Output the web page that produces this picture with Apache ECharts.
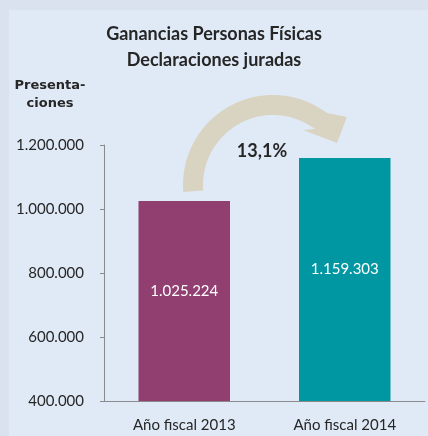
<!DOCTYPE html>
<html>
<head>
<meta charset="utf-8">
<script src="https://cdn.jsdelivr.net/npm/echarts@6/dist/echarts.min.js"></script>
<style>
  html, body { margin: 0; padding: 0; background: #dae2f0; }
  #chart { width: 428px; height: 436px; }
</style>
</head>
<body>
<div id="chart"></div>
<script>
// Ganancias Personas Físicas — bar chart, two fiscal years
const categories = ['Año fiscal 2013', 'Año fiscal 2014'];
const values = [1025224, 1159303];
const barColors = ['#913f71', '#0096a2'];
const yTicks = [400000, 600000, 800000, 1000000, 1200000];

const FONT = 'Lato, "Open Sans", sans-serif';

function fmtThousands(v) {
  return String(v).replace(/\B(?=(\d{3})+(?!\d))/g, '.');
}

const growth = ((values[1] / values[0] - 1) * 100).toFixed(1).replace('.', ',') + '%';

// decorative curved arrow: ring band from left to upper right + head
function arrowPoints() {
  const cx = 273, cy = 185, r = 90, r0 = 70;
  const a0 = 175.5 * Math.PI / 180;
  const a1 = 307 * Math.PI / 180;
  const pts = [];
  const n = 40;
  for (let i = 0; i <= n; i++) {
    const a = a0 + (a1 - a0) * i / n;
    pts.push([cx + r * Math.cos(a), cy + r * Math.sin(a)]);
  }
  pts.push([347, 117], [337, 143], [303, 130]);
  for (let i = n; i >= 0; i--) {
    const a = a0 + (a1 - a0) * i / n;
    pts.push([cx + r0 * Math.cos(a), cy + r0 * Math.sin(a)]);
  }
  return pts;
}

const chart = echarts.init(document.getElementById('chart'));

chart.setOption({
  backgroundColor: '#dae2f0',
  animation: false,
  title: {
    text: 'Ganancias Personas Físicas\nDeclaraciones juradas',
    left: 'center',
    top: 16,
    textStyle: {
      fontFamily: FONT,
      fontSize: 18,
      fontWeight: 'bold',
      color: '#262626',
      lineHeight: 26,
    },
  },
  grid: { left: 104, right: 3, top: 145, bottom: 35 },
  xAxis: {
    type: 'category',
    data: categories,
    axisLine: { lineStyle: { color: '#8a8a8a' } },
    axisTick: { length: 4, lineStyle: { color: '#8a8a8a' } },
    axisLabel: {
      fontFamily: FONT,
      fontSize: 15,
      color: '#262626',
      margin: 17,
    },
  },
  yAxis: {
    type: 'value',
    min: yTicks[0],
    max: yTicks[yTicks.length - 1],
    interval: 200000,
    splitLine: { show: false },
    axisLine: { show: true, lineStyle: { color: '#8a8a8a' } },
    axisTick: { show: true, length: 4, lineStyle: { color: '#8a8a8a' } },
    axisLabel: {
      fontFamily: FONT,
      fontSize: 15,
      color: '#262626',
      margin: 20,
      formatter: fmtThousands,
    },
  },
  graphic: [
    {
      type: 'rect',
      z: -10,
      shape: { x: 9, y: 10, width: 428, height: 436 },
      style: { fill: '#e0eaf6' },
    },
    {
      type: 'text',
      x: 50,
      y: 77,
      style: {
        text: 'Presenta-\nciones',
        textAlign: 'center',
        font: 'bold 13px "DejaVu Sans", sans-serif',
        lineHeight: 18,
        fill: '#262626',
      },
    },
    {
      type: 'polygon',
      z: 5,
      shape: { points: arrowPoints() },
      style: { fill: '#d9d3c1' },
    },
    {
      type: 'text',
      x: 262,
      y: 151,
      z: 6,
      style: {
        text: growth,
        textAlign: 'center',
        textVerticalAlign: 'middle',
        font: 'bold 18px ' + FONT,
        fill: '#262626',
      },
    },
  ],
  series: [{
    type: 'bar',
    barWidth: '57%',
    data: values.map((v, i) => ({ value: v, itemStyle: { color: barColors[i] } })),
    label: {
      show: true,
      position: 'inside',
      offset: [0, -10],
      fontFamily: FONT,
      fontSize: 15,
      color: '#ffffff',
      formatter: (p) => fmtThousands(p.value),
    },
  }],
});
</script>
</body>
</html>
